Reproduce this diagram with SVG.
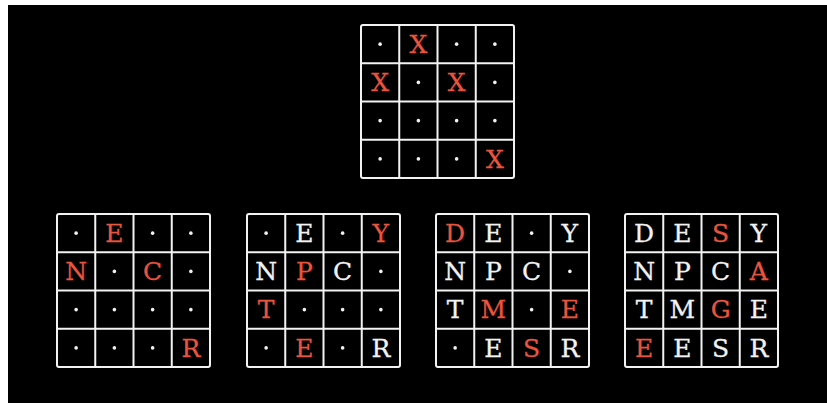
<svg xmlns="http://www.w3.org/2000/svg" xmlns:xlink="http://www.w3.org/1999/xlink" width="827" height="403" viewBox="0 0 827 403">
<style>
.g{fill:none;stroke:#f2f2f2;stroke-width:2}
.t{font-family:"DejaVu Serif","Liberation Serif",serif;font-size:25px;text-anchor:middle;fill:#f2f2f2;stroke:#f2f2f2;stroke-width:0.3}
.r{fill:#e8553e;stroke:#e8553e}
.d{fill:#f2f2f2}
</style>
<defs>
<g id="grid">
<rect class="g" x="0" y="0" width="153" height="153" rx="2"/>
<path class="g" d="M38.25 0V153M76.5 0V153M114.75 0V153M0 38.25H153M0 76.5H153M0 114.75H153"/>
</g>
<circle id="dot" class="d" r="1.8"/>
</defs>
<rect x="0" y="0" width="827" height="403" fill="#ffffff"/>
<rect x="8" y="5" width="819" height="398" fill="#000000"/>

<g id="grid-top" transform="translate(361,25)">
<use xlink:href="#grid"/>
<use xlink:href="#dot" x="19.125" y="19.125"/>
<text class="t r" x="57.375" y="27.8">X</text>
<use xlink:href="#dot" x="95.625" y="19.125"/>
<use xlink:href="#dot" x="133.875" y="19.125"/>
<text class="t r" x="19.125" y="66.1">X</text>
<use xlink:href="#dot" x="57.375" y="57.375"/>
<text class="t r" x="95.625" y="66.1">X</text>
<use xlink:href="#dot" x="133.875" y="57.375"/>
<use xlink:href="#dot" x="19.125" y="95.625"/>
<use xlink:href="#dot" x="57.375" y="95.625"/>
<use xlink:href="#dot" x="95.625" y="95.625"/>
<use xlink:href="#dot" x="133.875" y="95.625"/>
<use xlink:href="#dot" x="19.125" y="133.875"/>
<use xlink:href="#dot" x="57.375" y="133.875"/>
<use xlink:href="#dot" x="95.625" y="133.875"/>
<text class="t r" x="133.875" y="142.6">X</text>
</g>

<g id="grid-1" transform="translate(57,214)">
<use xlink:href="#grid"/>
<use xlink:href="#dot" x="19.125" y="19.125"/>
<text class="t r" x="57.375" y="27.8">E</text>
<use xlink:href="#dot" x="95.625" y="19.125"/>
<use xlink:href="#dot" x="133.875" y="19.125"/>
<text class="t r" x="19.125" y="66.1">N</text>
<use xlink:href="#dot" x="57.375" y="57.375"/>
<text class="t r" x="95.625" y="66.1">C</text>
<use xlink:href="#dot" x="133.875" y="57.375"/>
<use xlink:href="#dot" x="19.125" y="95.625"/>
<use xlink:href="#dot" x="57.375" y="95.625"/>
<use xlink:href="#dot" x="95.625" y="95.625"/>
<use xlink:href="#dot" x="133.875" y="95.625"/>
<use xlink:href="#dot" x="19.125" y="133.875"/>
<use xlink:href="#dot" x="57.375" y="133.875"/>
<use xlink:href="#dot" x="95.625" y="133.875"/>
<text class="t r" x="133.875" y="142.6">R</text>
</g>

<g id="grid-2" transform="translate(247,214)">
<use xlink:href="#grid"/>
<use xlink:href="#dot" x="19.125" y="19.125"/>
<text class="t" x="57.375" y="27.8">E</text>
<use xlink:href="#dot" x="95.625" y="19.125"/>
<text class="t r" x="133.875" y="27.8">Y</text>
<text class="t" x="19.125" y="66.1">N</text>
<text class="t r" x="57.375" y="66.1">P</text>
<text class="t" x="95.625" y="66.1">C</text>
<use xlink:href="#dot" x="133.875" y="57.375"/>
<text class="t r" x="19.125" y="104.3">T</text>
<use xlink:href="#dot" x="57.375" y="95.625"/>
<use xlink:href="#dot" x="95.625" y="95.625"/>
<use xlink:href="#dot" x="133.875" y="95.625"/>
<use xlink:href="#dot" x="19.125" y="133.875"/>
<text class="t r" x="57.375" y="142.6">E</text>
<use xlink:href="#dot" x="95.625" y="133.875"/>
<text class="t" x="133.875" y="142.6">R</text>
</g>

<g id="grid-3" transform="translate(436,214)">
<use xlink:href="#grid"/>
<text class="t r" x="19.125" y="27.8">D</text>
<text class="t" x="57.375" y="27.8">E</text>
<use xlink:href="#dot" x="95.625" y="19.125"/>
<text class="t" x="133.875" y="27.8">Y</text>
<text class="t" x="19.125" y="66.1">N</text>
<text class="t" x="57.375" y="66.1">P</text>
<text class="t" x="95.625" y="66.1">C</text>
<use xlink:href="#dot" x="133.875" y="57.375"/>
<text class="t" x="19.125" y="104.3">T</text>
<text class="t r" x="57.375" y="104.3">M</text>
<use xlink:href="#dot" x="95.625" y="95.625"/>
<text class="t r" x="133.875" y="104.3">E</text>
<use xlink:href="#dot" x="19.125" y="133.875"/>
<text class="t" x="57.375" y="142.6">E</text>
<text class="t r" x="95.625" y="142.6">S</text>
<text class="t" x="133.875" y="142.6">R</text>
</g>

<g id="grid-4" transform="translate(625,214)">
<use xlink:href="#grid"/>
<text class="t" x="19.125" y="27.8">D</text>
<text class="t" x="57.375" y="27.8">E</text>
<text class="t r" x="95.625" y="27.8">S</text>
<text class="t" x="133.875" y="27.8">Y</text>
<text class="t" x="19.125" y="66.1">N</text>
<text class="t" x="57.375" y="66.1">P</text>
<text class="t" x="95.625" y="66.1">C</text>
<text class="t r" x="133.875" y="66.1">A</text>
<text class="t" x="19.125" y="104.3">T</text>
<text class="t" x="57.375" y="104.3">M</text>
<text class="t r" x="95.625" y="104.3">G</text>
<text class="t" x="133.875" y="104.3">E</text>
<text class="t r" x="19.125" y="142.6">E</text>
<text class="t" x="57.375" y="142.6">E</text>
<text class="t" x="95.625" y="142.6">S</text>
<text class="t" x="133.875" y="142.6">R</text>
</g>
</svg>
